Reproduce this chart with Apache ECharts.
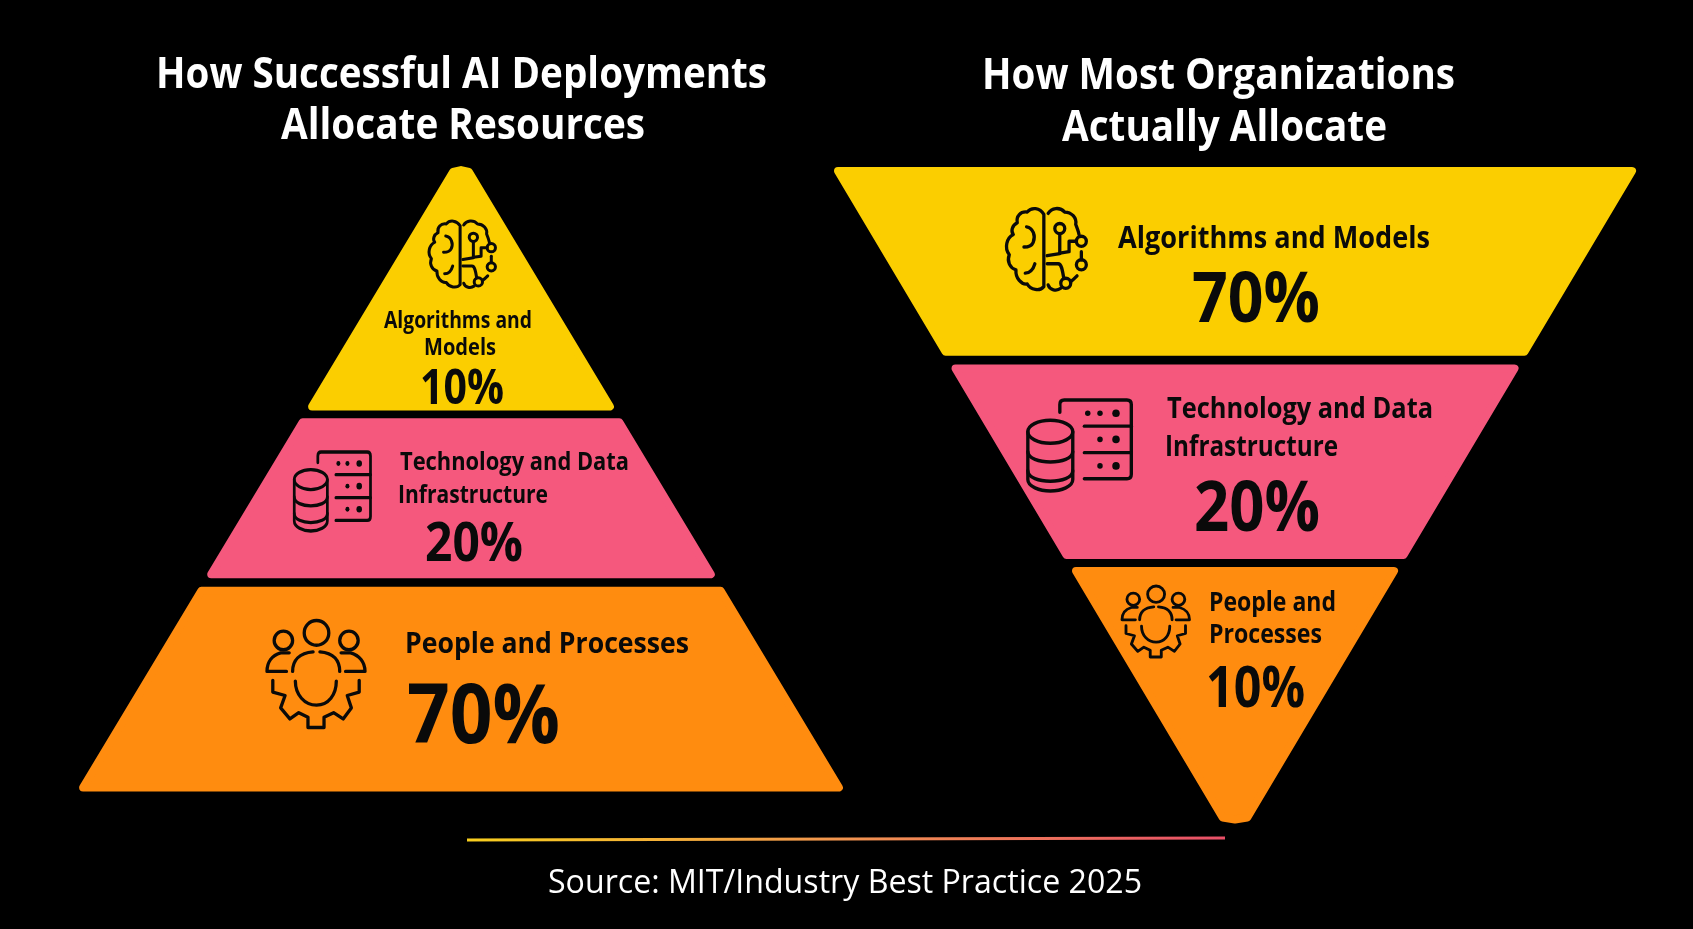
<!DOCTYPE html>
<html><head><meta charset="utf-8">
<style>html,body{margin:0;padding:0;background:#000}#c{width:1693px;height:929px}</style>
<script src="https://cdn.jsdelivr.net/npm/echarts@6/dist/echarts.min.js"></script>
</head><body><div id="c"></div>
<script>
// ---- data ----
const categories = ['Algorithms and Models', 'Technology and Data Infrastructure', 'People and Processes'];
const successfulShares = [10, 20, 70];
const typicalShares = [70, 20, 10];
// each band's start and end depth along the shape, on a 0-100 axis
const successfulFrom = [1.8, 41.9, 68.7];
const successfulTo = [39.4, 66.1, 100];
const typicalFrom = [72.9, 42.45, 2.8];
const typicalTo = [100, 70.4, 40.05];
const titleLeft = ['How Successful AI Deployments', 'Allocate Resources'];
const titleRight = ['How Most Organizations', 'Actually Allocate'];
const sourceText = 'Source: MIT/Industry Best Practice 2025';

// ---- styling ----
const colors = ['#fbce00', '#f5587d', '#ff8c0f'];
const INK = '#0a0a0a';
const FONT = '"Open Sans","Noto Sans",sans-serif';
const ICONS = {
  brain: {box: [42, 50, 250, 256], lines: [
    'M162 75C150 55 125 52 112 68C92 65 78 80 82 100C66 108 62 125 70 135C50 145 42 175 58 195C50 215 60 235 78 240C76 265 95 285 112 282C122 300 150 305 162 290Z',
    'M110 112C130 115 138 140 130 158C126 168 115 172 102 172',
    'M135 222C130 240 118 250 106 250',
    'M175 72C185 55 210 52 225 68C245 68 262 85 258 105C262 115 266 125 268 135',
    'M225 117A15 15 0 1 1 195 117A15 15 0 1 1 225 117Z',
    'M290 155A15 15 0 1 1 260 155A15 15 0 1 1 290 155Z',
    'M290 225A15 15 0 1 1 260 225A15 15 0 1 1 290 225Z',
    'M243 280A15 15 0 1 1 213 280A15 15 0 1 1 243 280Z',
    'M210 132V192L172 198',
    'M260 155H238V186L210 190',
    'M172 222H205C215 222 218 240 222 265',
    'M275 210V186',
    'M175 285C180 300 200 305 213 295',
    'M243 275C250 270 255 265 262 258'
  ], dots: []},
  data: {box: [55, 37, 307, 261], lines: [
    'M188 128A66 33 0 1 1 56 128A66 33 0 1 1 188 128Z',
    'M56 128V265C56 285 90 298 122 298C155 298 188 285 188 265V128',
    'M56 185C56 205 90 215 122 215C155 215 188 205 188 185',
    'M56 240C56 260 90 270 122 270C155 270 188 260 188 240',
    'M150 72V50Q150 37 163 37H347Q360 37 360 50V250Q360 263 347 263H222',
    'M222 112H360','M222 188H360'
  ], dots: [[232,75,8],[268,75,8],[315,75,11],[268,150,8],[315,150,11],[268,226,8],[315,226,11]]},
  people: {box: [55, 64, 287, 311], lines: [
    'M236 100A36 36 0 1 1 164 100A36 36 0 1 1 236 100Z',
    'M130 122A27 27 0 1 1 76 122A27 27 0 1 1 130 122Z',
    'M322 122A27 27 0 1 1 268 122A27 27 0 1 1 322 122Z',
    'M120 158H95C70 165 55 185 55 212H112',
    'M272 158H300C325 165 342 185 342 212H285',
    'M190 155C150 158 130 180 130 212',
    'M210 155C250 158 268 180 268 212',
    'M138 240C138 280 165 310 200 310C235 310 258 280 258 240',
    'M72 238V272L108 282L95 318L122 350L148 332L175 345V375H222V345L250 332L278 350L302 318L290 282L325 272V238'
  ], dots: []}
};
const iconNames = ['brain', 'data', 'people'];
const iconBoxesLeft = [[427, 219, 69, 70, 3], [294, 452, 77, 79, 3], [267, 620.5, 98, 107, 3.3]];
const iconBoxesRight = [[1004, 206, 83, 86, 3.3], [1027.5, 400, 104.5, 91, 3.4], [1122, 586, 67.5, 71, 2.8]];

const measureCtx = document.createElement('canvas').getContext('2d');
function txt(text, cx, cy, w, size, weight, fill) {
  const font = `${weight} ${size}px ${FONT}`;
  measureCtx.font = font;
  const sx = w / measureCtx.measureText(text).width;
  return {type: 'text', x: cx, y: cy + 0.085 * size, scaleX: sx, z: 20,
    style: {text, font, fill: fill || INK, align: 'center', verticalAlign: 'middle'}};
}
function icon(name, b) {
  const d = ICONS[name], sx = b[2] / d.box[2], sy = b[3] / d.box[3];
  const lw = b[4] / ((sx + sy) / 2);
  return {type: 'group', x: b[0] - d.box[0] * sx, y: b[1] - d.box[1] * sy, scaleX: sx, scaleY: sy,
    children: d.lines.map(p => ({type: 'path', shape: {pathData: p},
      style: {fill: 'none', stroke: INK, lineWidth: lw, lineCap: 'round', lineJoin: 'round'}}))
      .concat(d.dots.map(c => ({type: 'circle', shape: {cx: c[0], cy: c[1], r: c[2]}, style: {fill: INK}})))};
}

function bandSeries(i, from, to, shares, boxes, tipIndex) {
  return {type: 'custom', xAxisIndex: i, yAxisIndex: i, clip: false, z: 2,
    renderItem(params, api) {
      const a = api.value(0), b = api.value(1), k = params.dataIndex;
      let raw;
      if (k === tipIndex) {
        // pointed end of the shape: rounded tip
        const s = a + 0.3;
        raw = [[0, a], [s, s], [b, b], [-b, b], [-s, s]];
      } else {
        raw = [[-a, a], [a, a], [b, b], [-b, b]];
      }
      return {type: 'group', children: [
        {type: 'polygon', shape: {points: raw.map(p => api.coord(p))},
          style: {fill: colors[k], stroke: colors[k], lineWidth: 8, lineJoin: 'round'}},
        icon(iconNames[k], boxes[k])
      ]};
    },
    encode: {x: 0, y: 1},
    data: categories.map((c, k) => ({name: c, value: [from[k], to[k], shares[k]]}))};
}

const graphicEls = [
  txt(titleLeft[0], 461.5, 72, 611, 43, 700, '#fff'),
  txt(titleLeft[1], 463, 123, 364, 43, 700, '#fff'),
  txt(titleRight[0], 1218.5, 73, 473, 43, 700, '#fff'),
  txt(titleRight[1], 1224.5, 125, 325, 43, 700, '#fff'),

  txt('Algorithms and', 458, 319, 148, 23, 700),
  txt('Models', 460, 346, 72, 23, 700),
  txt(successfulShares[0] + '%', 462, 386, 84, 49, 700),

  txt('Technology and Data', 514.5, 461, 229, 25, 700),
  txt('Infrastructure', 473, 494, 150, 25, 700),
  txt(successfulShares[1] + '%', 474, 541, 98, 53, 700),

  txt('People and Processes', 547, 642, 284, 29, 700),
  txt(successfulShares[2] + '%', 483.5, 713, 153, 82, 700),

  txt('Algorithms and Models', 1274, 237, 312, 30, 700),
  txt(typicalShares[0] + '%', 1256, 296, 128, 70, 700),

  txt('Technology and Data', 1300, 407.5, 266, 29, 700),
  txt('Infrastructure', 1251.5, 445, 173, 29, 700),
  txt(typicalShares[1] + '%', 1257, 505, 126, 70, 700),

  txt('People and', 1272.5, 601, 127, 26, 700),
  txt('Processes', 1265.5, 633, 113, 26, 700),
  txt(typicalShares[2] + '%', 1255.5, 686, 99, 58, 700),

  {type: 'line', z: 20, shape: {x1: 467, y1: 840, x2: 1225, y2: 838},
    style: {lineWidth: 3, stroke: {type: 'linear', x: 0, y: 0, x2: 1, y2: 0,
      colorStops: [{offset: 0, color: '#f8cf1e'}, {offset: .5, color: '#f29450'}, {offset: 1, color: '#e94f68'}]}}},
  txt(sourceText, 845, 881, 594, 33, 400, '#fff')
];

const chart = echarts.init(document.getElementById('c'));
chart.setOption({
  backgroundColor: '#000',
  animation: false,
  grid: [
    {left: 83.1, top: 158.8, width: 755.8, height: 628.7},
    {left: 838, top: 171, width: 794, height: 667.2}
  ],
  xAxis: [
    {type: 'value', gridIndex: 0, min: -100, max: 100, show: false},
    {type: 'value', gridIndex: 1, min: -100, max: 100, show: false}
  ],
  yAxis: [
    {type: 'value', gridIndex: 0, min: 0, max: 100, inverse: true, show: false},
    {type: 'value', gridIndex: 1, min: 0, max: 100, show: false}
  ],
  series: [
    bandSeries(0, successfulFrom, successfulTo, successfulShares, iconBoxesLeft, 0),
    bandSeries(1, typicalFrom, typicalTo, typicalShares, iconBoxesRight, 2)
  ],
  graphic: {z: 100, elements: graphicEls}
});
</script></body></html>
